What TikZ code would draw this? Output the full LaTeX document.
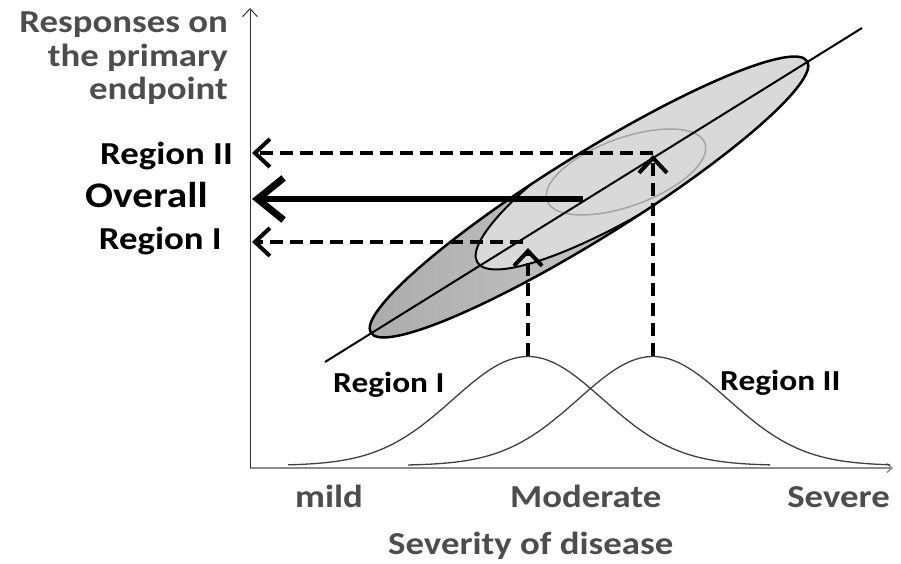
\documentclass[tikz,border=0pt]{standalone}
\usepackage{fontspec}
\setmainfont{Carlito}[FakeStretch=1.15]
\usetikzlibrary{arrows.meta}
\definecolor{labelgray}{HTML}{4D4D4D}
\definecolor{darkfill}{HTML}{ABABAB}
\definecolor{lightfill}{HTML}{D9D9D9}
\definecolor{regiongray}{HTML}{A5A5A5}

\begin{document}
\begin{tikzpicture}[x=1pt, y=1pt,
    axislabel/.style={font=\fontsize{32}{34}\selectfont\bfseries, text=labelgray, inner sep=0pt},
    sidelabel/.style={font=\fontsize{32}{34}\selectfont\bfseries, inner sep=0pt},
    curvelabel/.style={font=\fontsize{29}{31}\selectfont\bfseries, inner sep=0pt},
    dasharrow/.style={line width=3.5pt, dash pattern=on 13pt off 7pt, -{Straight Barb[length=15pt,width=28pt,line width=4pt]}},
    curve/.style={line width=1.3pt, draw=black!75}]
    \useasboundingbox (0,0) rectangle (901,564);
    %the axes
    \coordinate (origin) at (250,96);
    \coordinate (ytop) at (250,556);
    \coordinate (xend) at (893,96);
    \draw[line width=1.5pt, draw=black!45, -{Straight Barb[length=5pt,width=9pt]}] (origin) -- (xend);
    \draw[line width=1pt, draw=black!80, -{Straight Barb[length=8pt,width=15pt]}] (origin) -- (ytop);
    %the ellipses
    \coordinate (bigc) at (589,367);
    \coordinate (onec) at (647,407.5);
    \coordinate (twoc) at (626,392);
    \shade[rotate around={31.9:(bigc)}, left color=darkfill, right color=lightfill] (bigc) ellipse [x radius=257, y radius=42];
    \begin{scope}
        \clip[rotate around={31.9:(bigc)}] (bigc) ellipse [x radius=257, y radius=42];
        \fill[lightfill, rotate around={32:(onec)}] (onec) ellipse [x radius=200, y radius=46];
        \filldraw[fill=lightfill, draw=regiongray, line width=1.5pt, rotate around={20:(twoc)}] (twoc) ellipse [x radius=84, y radius=34];
        \draw[line width=2pt, rotate around={32:(onec)}] (onec) ellipse [x radius=200, y radius=46];
    \end{scope}
    \draw[line width=2.5pt, rotate around={31.9:(bigc)}] (bigc) ellipse [x radius=257, y radius=42];
    %the trend line
    \coordinate (lineA) at (325,202);
    \coordinate (lineB) at (862,536);
    \draw[line width=2pt] (lineA) -- (lineB);
    %the distributions
    \draw[curve] plot[domain=288:770, samples=90] (\x, {98.5+109*exp(-0.5*((\x-528)/75)^2)});
    \draw[curve] plot[domain=408:890, samples=90] (\x, {98.5+109*exp(-0.5*((\x-653)/75)^2)});
    %the arrows
    \coordinate (peakI) at (528,207.5);
    \coordinate (hitI) at (528,316);
    \coordinate (fromI) at (523,322);
    \coordinate (toI) at (252,322);
    \coordinate (peakII) at (653,207.5);
    \coordinate (hitII) at (653,409);
    \coordinate (fromII) at (653,411);
    \coordinate (toII) at (252,411);
    \coordinate (fromAll) at (583,365);
    \coordinate (toAll) at (252,365);
    \draw[dasharrow] (peakI) -- (hitI);
    \draw[dasharrow] (fromI) -- (toI);
    \draw[dasharrow] (peakII) -- (hitII);
    \draw[dasharrow] (fromII) -- (toII);
    \draw[line width=6pt, -{Straight Barb[length=26pt,width=42pt,line width=7pt]}] (fromAll) -- (toAll);
    %legends
    \node[axislabel, anchor=base east] (resp1) at (228,531) {Responses on};
    \node[axislabel, anchor=base east] (resp2) at (228,497) {the primary};
    \node[axislabel, anchor=base east] (resp3) at (228,464) {endpoint};
    \node[sidelabel, anchor=base east] (regIIside) at (233,399) {Region II};
    \node[sidelabel, anchor=base east, font=\fontsize{36}{38}\selectfont\bfseries] (overall) at (208,356) {Overall};
    \node[sidelabel, anchor=base east] (regIside) at (222,314) {Region I};
    \node[curvelabel, anchor=base west] (regIlab) at (333,171) {Region I};
    \node[curvelabel, anchor=base west] (regIIlab) at (720,173) {Region II};
    \node[axislabel, anchor=base west] (mild) at (295,56) {mild};
    \node[axislabel, anchor=base west] (moderate) at (510,56) {Moderate};
    \node[axislabel, anchor=base east] (severe) at (890,56) {Severe};
    \node[axislabel, anchor=base west] (xtitle) at (388,9) {Severity of disease};
\end{tikzpicture}
\end{document}
